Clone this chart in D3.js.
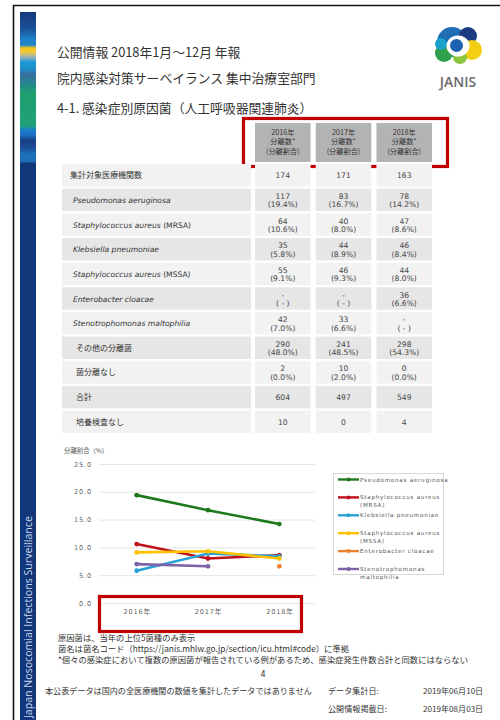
<!DOCTYPE html>
<html><head><meta charset="utf-8">
<script src="https://cdn.jsdelivr.net/npm/d3@7"></script>
<style>
html,body{margin:0;padding:0;background:#fff;}
svg{display:block;}
text{font-family:"DejaVu Sans","Noto Sans CJK JP",sans-serif;}
.jp{font-family:"Noto Sans CJK JP","DejaVu Sans",sans-serif;}
</style></head>
<body>
<svg id="c" width="500" height="720"></svg>
<script>
// ---------- data ----------
const years = ["2016年", "2017年", "2018年"];
const rowNames = ["集計対象医療機関数", "Pseudomonas aeruginosa", "Staphylococcus aureus", "Klebsiella pneumoniae", "Staphylococcus aureus", "Enterobacter cloacae", "Stenotrophomonas maltophilia", "その他の分離菌", "菌分離なし", "合計", "培養検査なし"];
const rowSuffix = ["", "", " (MRSA)", "", " (MSSA)", "", "", "", "", "", ""];
const rowItalic = [false, true, true, true, true, true, true, false, false, false, false];
const counts2016 = ["174", "117", "64", "35", "55", "-", "42", "290", "2", "604", "10"];
const pct2016 = [null, "19.4%", "10.6%", "5.8%", "9.1%", "-", "7.0%", "48.0%", "0.0%", null, null];
const counts2017 = ["171", "83", "40", "44", "46", "-", "33", "241", "10", "497", "0"];
const pct2017 = [null, "16.7%", "8.0%", "8.9%", "9.3%", "-", "6.6%", "48.5%", "2.0%", null, null];
const counts2018 = ["163", "78", "47", "46", "44", "36", "-", "298", "0", "549", "4"];
const pct2018 = [null, "14.2%", "8.6%", "8.4%", "8.0%", "6.6%", "-", "54.3%", "0.0%", null, null];

const seriesNames = ["Pseudomonas aeruginosa", "Staphylococcus aureus (MRSA)", "Klebsiella pneumoniae", "Staphylococcus aureus (MSSA)", "Enterobacter cloacae", "Stenotrophomonas maltophilia"];
const legendLines = [["Pseudomonas aeruginosa"], ["Staphylococcus aureus", "(MRSA)"], ["Klebsiella pneumoniae"], ["Staphylococcus aureus", "(MSSA)"], ["Enterobacter cloacae"], ["Stenotrophomonas", "maltophilia"]];
const pseudomonasPct = [19.4, 16.7, 14.2];
const mrsaPct = [10.6, 8.0, 8.6];
const klebsiellaPct = [5.8, 8.9, 8.4];
const mssaPct = [9.1, 9.3, 8.0];
const enterobacterPct = [null, null, 6.6];
const stenoPct = [7.0, 6.6, null];
const yTicks = [0, 5, 10, 15, 20, 25];
const seriesColors = ["#1e781e", "#c0101a", "#2ba0d6", "#ffc000", "#e8822e", "#7d62a6"];

// ---------- page frame ----------
const svg = d3.select("#c");
svg.append("line").attr("x1", 13).attr("x2", 500).attr("y1", 5.5).attr("y2", 5.5).attr("stroke", "#111").attr("stroke-width", 1.6);
svg.append("line").attr("x1", 13.5).attr("x2", 13.5).attr("y1", 5).attr("y2", 720).attr("stroke", "#111").attr("stroke-width", 1.6);

const defs = svg.append("defs");
const grad = defs.append("linearGradient").attr("id", "side")
  .attr("gradientUnits", "userSpaceOnUse").attr("y1", 12).attr("y2", 720).attr("x1", 0).attr("x2", 0);
const stops = [[12, "#17397f"], [28, "#1a4f96"], [38, "#1c7ec6"], [45, "#1f86cc"], [48, "#f5c518"], [52, "#f0c83a"], [57, "#9fb3b8"], [62, "#1d9ad6"], [69, "#1b8fcc"], [74, "#3a6ea0"], [84, "#25878e"], [93, "#20a070"], [126, "#1fa17a"], [130, "#1a7fd0"], [136, "#1c6bbd"], [140, "#1a3f84"], [148, "#1c4f98"], [155, "#1e72bd"], [162, "#1e6ab5"], [163, "#11377a"], [720, "#11377a"]];
stops.forEach(s => grad.append("stop").attr("offset", (s[0] - 12) / (720 - 12)).attr("stop-color", s[1]));
svg.append("rect").attr("x", 20).attr("y", 12).attr("width", 16).attr("height", 708).attr("fill", "url(#side)");
svg.append("text").attr("transform", "translate(31.5,718) rotate(-90)").attr("fill", "#c9d6ee")
  .attr("font-size", 10.6).style("font-family", "'Open Sans','DejaVu Sans',sans-serif")
  .text("Japan Nosocomial Infections Surveillance");

// ---------- header ----------
svg.append("text").attr("class", "jp").attr("x", 57).attr("y", 57).attr("font-size", 12.8).attr("fill", "#333").text("公開情報 2018年1月～12月 年報");
svg.append("text").attr("class", "jp").attr("x", 57).attr("y", 83).attr("font-size", 12.8).attr("fill", "#333").text("院内感染対策サーベイランス 集中治療室部門");
svg.append("text").attr("class", "jp").attr("x", 57).attr("y", 113).attr("font-size", 12.8).attr("fill", "#333").text("4-1. 感染症別原因菌（人工呼吸器関連肺炎）");

// logo
const logo = svg.append("g");
logo.append("circle").attr("cx", 452).attr("cy", 42).attr("r", 15).attr("fill", "#1f6db5");
logo.append("circle").attr("cx", 468).attr("cy", 36).attr("r", 9).attr("fill", "#1b3c82");
logo.append("circle").attr("cx", 472).attr("cy", 50).attr("r", 10).attr("fill", "#f2cf12");
logo.append("circle").attr("cx", 444).attr("cy", 53).attr("r", 9).attr("fill", "#2ea04a");
logo.append("circle").attr("cx", 441).attr("cy", 44).attr("r", 6).attr("fill", "#1aa0cc");
logo.append("circle").attr("cx", 460).attr("cy", 57).attr("r", 7).attr("fill", "#8cc63e");
logo.append("ellipse").attr("cx", 458).attr("cy", 46).attr("rx", 11.5).attr("ry", 10.5).attr("fill", "#fff");
logo.append("circle").attr("cx", 456.5).attr("cy", 45.5).attr("r", 6.5).attr("fill", "#1c62b0");
svg.append("text").attr("x", 458).attr("y", 87).attr("text-anchor", "middle").attr("font-size", 14)
  .style("font-family", "'Open Sans','Liberation Sans',sans-serif").attr("font-weight", 600).attr("fill", "#6b6b6b").text("JANIS");

// ---------- table ----------
const colX = d3.scaleBand().domain(years).range([255, 432]).paddingInner(0.085);
const rowY = d3.scaleBand().domain(d3.range(rowNames.length)).range([164, 433]).paddingInner(0.09);
const counts = [counts2016, counts2017, counts2018];
const pcts = [pct2016, pct2017, pct2018];

// header cells
years.forEach((yr, i) => {
  const x0 = colX(yr), w = colX.bandwidth();
  svg.append("rect").attr("x", x0).attr("y", 123).attr("width", w).attr("height", 39).attr("fill", "#b3b3b3");
  const cx = x0 + w / 2;
  [[yr, 134.5], ["分離数*", 144.2], ["(分離割合)", 153.9]].forEach(t => {
    svg.append("text").attr("class", "jp").attr("x", cx).attr("y", t[1]).attr("text-anchor", "middle")
      .attr("font-size", 7.2).attr("fill", "#333").text(t[0]);
  });
});
svg.append("rect").attr("x", 243.5).attr("y", 118.5).attr("width", 204).attr("height", 48).attr("fill", "none")
  .attr("stroke", "#c00000").attr("stroke-width", 3.2);

rowNames.forEach((name, r) => {
  const y0 = rowY(r), h = rowY.bandwidth();
  const fill = r % 2 === 1 ? "#e6e6e6" : "#f2f2f2";
  svg.append("rect").attr("x", 62).attr("y", y0).attr("width", 189).attr("height", h).attr("fill", fill);
  const t = svg.append("text").attr("x", rowItalic[r] ? 73 : (r === 0 ? 70 : 76)).attr("y", y0 + h / 2 + 3)
    .attr("font-size", rowItalic[r] ? 7.6 : 8).attr("fill", "#333");
  if (rowItalic[r]) {
    t.append("tspan").attr("font-style", "italic").text(name);
    if (rowSuffix[r]) t.append("tspan").text(rowSuffix[r]);
  } else {
    t.attr("class", "jp").text(name);
  }
  years.forEach((yr, i) => {
    svg.append("rect").attr("x", colX(yr)).attr("y", y0).attr("width", colX.bandwidth()).attr("height", h).attr("fill", fill);
    const cx = colX(yr) + colX.bandwidth() / 2;
    const p = pcts[i][r];
    if (p === null) {
      svg.append("text").attr("x", cx).attr("y", y0 + h / 2 + 3).attr("text-anchor", "middle")
        .attr("font-size", 7.6).attr("fill", "#444").text(counts[i][r]);
    } else {
      svg.append("text").attr("x", cx).attr("y", y0 + h / 2 - 1).attr("text-anchor", "middle")
        .attr("font-size", 7.6).attr("fill", "#444").text(counts[i][r]);
      svg.append("text").attr("x", cx).attr("y", y0 + h / 2 + 7.5).attr("text-anchor", "middle")
        .attr("font-size", 7.6).attr("fill", "#444").text(p === "-" ? "( - )" : "(" + p + ")");
    }
  });
});

// ---------- chart ----------
const x = d3.scalePoint().domain(years).range([101, 315]).padding(0.5);
const y = d3.scaleLinear().domain([0, 25]).range([603, 464]);

svg.append("text").attr("class", "jp").attr("x", 64).attr("y", 453).attr("font-size", 6.4).attr("fill", "#555").text("分離割合（%）");

const yAxis = svg.append("g").attr("transform", "translate(99,0)")
  .call(d3.axisLeft(y).tickValues(yTicks).tickFormat(d3.format(".1f")).tickSize(-216).tickPadding(7));
yAxis.select(".domain").remove();
yAxis.selectAll(".tick line").attr("stroke", "#dedede").attr("stroke-width", 0.8);
yAxis.selectAll(".tick text").attr("font-size", 6.6).attr("fill", "#666").style("letter-spacing", "0.8px");

const xAxis = svg.append("g").attr("transform", "translate(0,603)")
  .call(d3.axisBottom(x).tickSize(0).tickPadding(6));
xAxis.select(".domain").remove();
xAxis.selectAll(".tick text").attr("font-size", 6.6).attr("fill", "#666").style("letter-spacing", "0.8px")
  .style("font-family", "'DejaVu Sans','Noto Sans CJK JP',sans-serif");

const seriesData = [pseudomonasPct, mrsaPct, klebsiellaPct, mssaPct, enterobacterPct, stenoPct];
const line = d3.line().defined(d => d.v !== null).x(d => x(d.yr)).y(d => y(d.v));
seriesData.forEach((vals, s) => {
  const pts = vals.map((v, i) => ({ yr: years[i], v }));
  svg.append("path").datum(pts).attr("d", line).attr("fill", "none")
    .attr("stroke", seriesColors[s]).attr("stroke-width", 2.6).attr("stroke-linecap", "round");
  svg.selectAll(null).data(pts.filter(d => d.v !== null)).enter().append("circle")
    .attr("cx", d => x(d.yr)).attr("cy", d => y(d.v)).attr("r", 2.4).attr("fill", seriesColors[s]);
});

// legend
svg.append("rect").attr("x", 333.5).attr("y", 473.5).attr("width", 110).attr("height", 101)
  .attr("fill", "#fff").attr("stroke", "#cfcfcf").attr("stroke-width", 0.8);
const ly = d3.scalePoint().domain(d3.range(seriesNames.length)).range([479.5, 569]);
seriesNames.forEach((nm, s) => {
  const yy = ly(s);
  svg.append("line").attr("x1", 338).attr("x2", 359).attr("y1", yy).attr("y2", yy)
    .attr("stroke", seriesColors[s]).attr("stroke-width", 2.4);
  svg.append("circle").attr("cx", 348.5).attr("cy", yy).attr("r", 2).attr("fill", seriesColors[s]);
  legendLines[s].forEach((ln, k) => {
    svg.append("text").attr("x", 360).attr("y", yy + 2 + k * 8).attr("font-size", 5.6).attr("fill", "#555")
      .style("letter-spacing", "0.75px").text(ln);
  });
});

svg.append("rect").attr("x", 99.5).attr("y", 596.5).attr("width", 202).attr("height", 35).attr("fill", "none")
  .attr("stroke", "#c00000").attr("stroke-width", 3.2);

// ---------- footer ----------
const foot = [["原因菌は、当年の上位5菌種のみ表示", 58, 641], ["菌名は菌名コード（https://janis.mhlw.go.jp/section/icu.html#code）に準拠", 58, 652], ["*個々の感染症において複数の原因菌が報告されている例があるため、感染症発生件数合計と同数にはならない", 58, 663]];
foot.forEach(f => svg.append("text").attr("class", "jp").attr("x", f[1]).attr("y", f[2]).attr("font-size", 8.3).attr("fill", "#333").text(f[0]));
svg.append("text").attr("x", 263).attr("y", 677).attr("text-anchor", "middle").attr("font-size", 8).attr("fill", "#333").text("4");
svg.append("text").attr("class", "jp").attr("x", 45).attr("y", 694).attr("font-size", 8.1).attr("fill", "#333").text("本公表データは国内の全医療機関の数値を集計したデータではありません");
svg.append("text").attr("class", "jp").attr("x", 328).attr("y", 694).attr("font-size", 8.1).attr("fill", "#333").text("データ集計日:");
svg.append("text").attr("class", "jp").attr("x", 423).attr("y", 694).attr("font-size", 8.1).attr("fill", "#333").text("2019年06月10日");
svg.append("text").attr("class", "jp").attr("x", 328).attr("y", 712).attr("font-size", 8.1).attr("fill", "#333").text("公開情報掲載日:");
svg.append("text").attr("class", "jp").attr("x", 423).attr("y", 712).attr("font-size", 8.1).attr("fill", "#333").text("2019年08月03日");
</script>
</body></html>
